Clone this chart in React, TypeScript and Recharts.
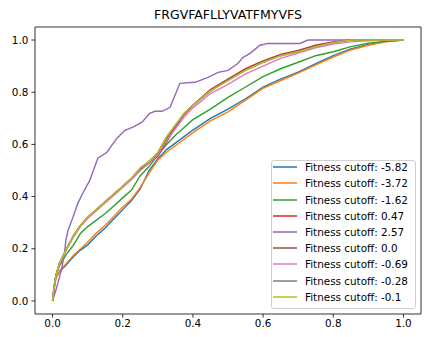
import React from "react";
import { LineChart, Line, XAxis, YAxis, ReferenceArea } from "recharts";

const TITLE = "FRGVFAFLLYVATFMYVFS";

const X_TICKS = [0, 0.2, 0.4, 0.6, 0.8, 1.0];
const Y_TICKS = [0, 0.2, 0.4, 0.6, 0.8, 1.0];

const X_GRID = [0, 0.005, 0.01, 0.02, 0.04, 0.06, 0.08, 0.1, 0.125, 0.15, 0.175, 0.2, 0.225, 0.25, 0.275, 0.3, 0.325, 0.35, 0.375, 0.4, 0.45, 0.5, 0.55, 0.6, 0.65, 0.7, 0.75, 0.8, 0.85, 0.9, 0.95, 1.0];

const blueY = [0, 0.05, 0.09, 0.112, 0.14, 0.17, 0.195, 0.215, 0.25, 0.28, 0.315, 0.35, 0.385, 0.43, 0.5, 0.545, 0.58, 0.605, 0.63, 0.655, 0.7, 0.735, 0.775, 0.82, 0.85, 0.877, 0.91, 0.94, 0.966, 0.983, 0.995, 1];
const orangeY = [0, 0.05, 0.09, 0.115, 0.145, 0.175, 0.2, 0.225, 0.26, 0.29, 0.325, 0.36, 0.39, 0.435, 0.49, 0.54, 0.57, 0.595, 0.62, 0.645, 0.69, 0.725, 0.77, 0.815, 0.845, 0.873, 0.905, 0.935, 0.962, 0.98, 0.993, 1];
const greenY = [0, 0.06, 0.1, 0.135, 0.18, 0.215, 0.26, 0.285, 0.31, 0.335, 0.365, 0.395, 0.425, 0.48, 0.515, 0.56, 0.6, 0.635, 0.665, 0.695, 0.735, 0.78, 0.82, 0.86, 0.89, 0.915, 0.94, 0.955, 0.975, 0.988, 0.995, 1];
const redY = [0, 0.06, 0.1, 0.145, 0.2, 0.25, 0.29, 0.32, 0.35, 0.38, 0.41, 0.44, 0.47, 0.505, 0.53, 0.555, 0.61, 0.665, 0.715, 0.75, 0.81, 0.85, 0.89, 0.92, 0.945, 0.96, 0.98, 0.993, 1, 1, 1, 1];
const purpleX = [0, 0.007, 0.015, 0.027, 0.035, 0.038, 0.044, 0.058, 0.072, 0.086, 0.106, 0.129, 0.155, 0.183, 0.206, 0.229, 0.255, 0.277, 0.292, 0.312, 0.335, 0.349, 0.363, 0.406, 0.443, 0.472, 0.5, 0.528, 0.543, 0.563, 0.591, 0.614, 0.705, 0.728, 1.0];
const purpleY = [0, 0.03, 0.067, 0.13, 0.195, 0.233, 0.27, 0.32, 0.374, 0.413, 0.462, 0.547, 0.57, 0.623, 0.654, 0.666, 0.685, 0.719, 0.727, 0.727, 0.742, 0.788, 0.834, 0.838, 0.857, 0.876, 0.884, 0.91, 0.934, 0.949, 0.98, 0.987, 0.987, 1, 1];
const brownY = [0, 0.06, 0.1, 0.145, 0.2, 0.25, 0.29, 0.32, 0.35, 0.38, 0.41, 0.44, 0.47, 0.508, 0.533, 0.562, 0.62, 0.67, 0.718, 0.75, 0.808, 0.848, 0.887, 0.917, 0.942, 0.957, 0.977, 0.991, 1, 1, 1, 1];
const pinkY = [0, 0.058, 0.098, 0.142, 0.197, 0.246, 0.286, 0.316, 0.346, 0.376, 0.405, 0.435, 0.465, 0.5, 0.527, 0.56, 0.615, 0.66, 0.705, 0.74, 0.795, 0.83, 0.87, 0.9, 0.93, 0.95, 0.97, 0.985, 0.993, 0.997, 1, 1];
const grayY = [0, 0.06, 0.1, 0.145, 0.2, 0.25, 0.29, 0.32, 0.35, 0.38, 0.41, 0.44, 0.47, 0.51, 0.535, 0.568, 0.628, 0.673, 0.718, 0.749, 0.804, 0.845, 0.884, 0.914, 0.94, 0.955, 0.975, 0.99, 1, 1, 1, 1];
const oliveY = [0, 0.06, 0.1, 0.145, 0.2, 0.25, 0.29, 0.32, 0.35, 0.38, 0.41, 0.44, 0.47, 0.51, 0.535, 0.57, 0.63, 0.675, 0.72, 0.75, 0.805, 0.845, 0.885, 0.915, 0.94, 0.955, 0.975, 0.99, 1, 1, 1, 1];

const LABELS = [
  "Fitness cutoff: -5.82",
  "Fitness cutoff: -3.72",
  "Fitness cutoff: -1.62",
  "Fitness cutoff: 0.47",
  "Fitness cutoff: 2.57",
  "Fitness cutoff: 0.0",
  "Fitness cutoff: -0.69",
  "Fitness cutoff: -0.28",
  "Fitness cutoff: -0.1",
];
const COLORS = ["#1f77b4", "#ff7f0e", "#2ca02c", "#d62728", "#9467bd", "#8c564b", "#e377c2", "#7f7f7f", "#bcbd22"];

const toPoints = (xs: number[], ys: number[]) => xs.map((x, i) => ({ x, y: ys[i] }));

const SERIES = [
  toPoints(X_GRID, blueY),
  toPoints(X_GRID, orangeY),
  toPoints(X_GRID, greenY),
  toPoints(X_GRID, redY),
  toPoints(purpleX, purpleY),
  toPoints(X_GRID, brownY),
  toPoints(X_GRID, pinkY),
  toPoints(X_GRID, grayY),
  toPoints(X_GRID, oliveY),
];

const FONT = "DejaVu Sans";
const TICK_FONT = 10.4;

export default function App() {
  return (
    <div style={{ position: "absolute", left: 0, top: 0, width: 433, height: 337, background: "#fff" }}>
      <div
        style={{
          position: "absolute",
          left: 35,
          width: 386,
          top: 7,
          textAlign: "center",
          fontFamily: FONT,
          fontSize: 12.5,
          color: "#000",
          lineHeight: "16px",
        }}
      >
        {TITLE}
      </div>
      <LineChart width={433} height={337} margin={{ top: 27, right: 12, left: 0, bottom: 0 }}>
        <XAxis
          dataKey="x"
          type="number"
          domain={[-0.05, 1.05]}
          ticks={X_TICKS}
          tickFormatter={(v: number) => v.toFixed(1)}
          height={23}
          axisLine={false}
          tickSize={3.6}
          tickMargin={2.2}
          tickLine={{ stroke: "#000", strokeWidth: 0.8 }}
          tick={{ fill: "#000", fontSize: TICK_FONT, fontFamily: FONT }}
          allowDataOverflow
        />
        <YAxis
          type="number"
          domain={[-0.05, 1.05]}
          ticks={Y_TICKS}
          tickFormatter={(v: number) => v.toFixed(1)}
          width={35}
          axisLine={false}
          tickSize={3.6}
          tickMargin={3}
          tickLine={{ stroke: "#000", strokeWidth: 0.8 }}
          tick={{ fill: "#000", fontSize: TICK_FONT, fontFamily: FONT }}
          allowDataOverflow
        />
        <ReferenceArea x1={-0.05} x2={1.05} y1={-0.05} y2={1.05} fill="none" stroke="#000" strokeWidth={0.8} ifOverflow="visible" />
        {SERIES.map((d, i) => (
          <Line
            key={LABELS[i]}
            data={d}
            dataKey="y"
            name={LABELS[i]}
            stroke={COLORS[i]}
            strokeWidth={1.4}
            dot={false}
            activeDot={false}
            type="linear"
            isAnimationActive={false}
          />
        ))}
      </LineChart>
      <div
        style={{
          position: "absolute",
          left: 271,
          top: 160,
          boxSizing: "border-box",
          width: 145,
          height: 149,
          border: "1px solid #d0d0d0",
          borderRadius: 3,
          background: "rgba(255,255,255,0.85)",
          paddingLeft: 1,
          fontFamily: FONT,
          fontSize: TICK_FONT,
          color: "#000",
        }}
      >
        <div style={{ position: "relative", top: -1.8 }}>
          {LABELS.map((l, i) => (
            <div key={l} style={{ height: 16.2, display: "flex", alignItems: "center", whiteSpace: "nowrap" }}>
              <svg width={24} height={4} style={{ marginRight: 8, flex: "none" }}>
                <line x1={0} y1={2} x2={24} y2={2} stroke={COLORS[i]} strokeWidth={1.5} />
              </svg>
              <span>{l}</span>
            </div>
          ))}
        </div>
      </div>
    </div>
  );
}
